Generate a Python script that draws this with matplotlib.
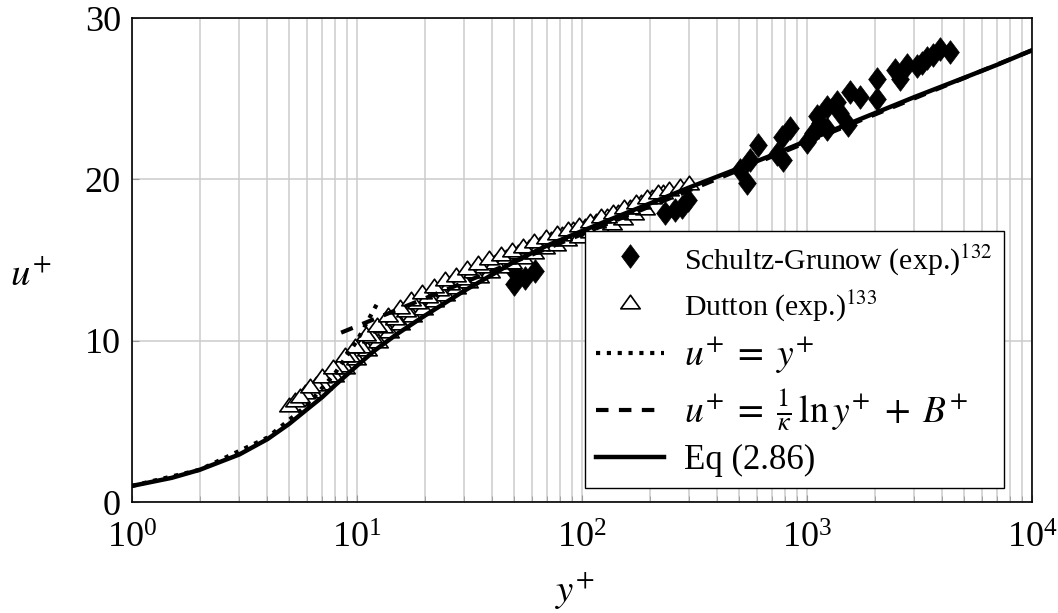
import matplotlib
matplotlib.use("Agg")
import matplotlib.pyplot as plt
from matplotlib.path import Path

plt.rcParams['font.family'] = 'serif'
plt.rcParams['font.serif'] = ['Liberation Serif', 'DejaVu Serif']
plt.rcParams['mathtext.fontset'] = 'stix'

# Schultz-Grunow (exp.)
sg_y = [50, 50, 56, 62, 234, 259, 278, 296, 504, 541, 558, 606, 736, 774, 782, 840,
        1000, 1064, 1107, 1143, 1227, 1227, 1360, 1402, 1521, 1553, 1720, 2047, 2047,
        2460, 2590, 2780, 3080, 3240, 3415, 3630, 3900, 4320]
sg_u = [13.5, 14.3, 13.9, 14.3, 17.9, 18.1, 18.3, 18.7, 20.6, 19.8, 21.2, 22.1, 21.6, 22.6, 21.2, 23.2,
        22.3, 22.9, 23.9, 23.5, 24.5, 23.1, 24.8, 24.1, 23.4, 25.4, 25.1, 26.2, 25.0,
        26.8, 26.2, 27.1, 27.0, 27.2, 27.5, 27.7, 28.1, 27.9]

# Dutton (exp.) - three overlapping profiles
dut1_y = [5.0, 5.6, 6.3, 7.0, 7.9, 8.8, 9.9, 11.1, 12.4, 13.9, 15.6, 17.5, 19.6, 22, 24.6, 27.6,
          31, 34.7, 38.9, 43.6, 48.8, 54.7, 61.3, 68.7, 77, 86.2, 96.6, 108, 121, 136, 152, 171, 191]
dut1_u = [6.0, 6.4, 6.9, 7.4, 7.9, 8.4, 8.9, 9.5, 10.0, 10.6, 11.1, 11.6, 12.0, 12.5, 12.9, 13.3,
          13.7, 14.0, 14.3, 14.6, 14.9, 15.2, 15.5, 15.8, 16.0, 16.3, 16.5, 16.8, 17.0, 17.3, 17.6, 17.9, 18.2]
dut2_y = [5.3, 5.9, 6.6, 7.4, 8.3, 9.3, 10.4, 11.7, 13.1, 14.7, 16.5, 18.5, 20.7, 23.2, 26, 29.2,
          32.7, 36.7, 41.1, 46.1, 51.7, 58, 65, 72.9, 81.7, 91.6, 103, 115, 129, 145, 163, 183, 205, 230]
dut2_u = [6.3, 6.8, 7.3, 7.9, 8.5, 9.1, 9.7, 10.3, 10.9, 11.4, 11.9, 12.4, 12.8, 13.2, 13.6, 13.9,
          14.3, 14.6, 14.9, 15.2, 15.5, 15.8, 16.0, 16.3, 16.6, 16.9, 17.1, 17.4, 17.7, 18.0, 18.3, 18.6, 18.9, 19.2]
dut3_y = [5.6, 6.2, 7.0, 7.8, 8.8, 9.8, 11.0, 12.3, 13.8, 15.5, 17.4, 19.5, 21.9, 24.5, 27.5, 30.8,
          34.6, 38.8, 43.5, 48.8, 54.7, 61.4, 68.9, 77.3, 86.7, 97.2, 109, 122, 137, 154, 173, 194,
          218, 244, 274, 300]
dut3_u = [6.6, 7.2, 7.8, 8.4, 9.1, 9.7, 10.4, 11.0, 11.6, 12.1, 12.6, 13.0, 13.4, 13.8, 14.1, 14.5,
          14.8, 15.1, 15.4, 15.6, 15.9, 16.2, 16.4, 16.7, 16.9, 17.2, 17.4, 17.7, 18.0, 18.3, 18.6, 18.9,
          19.2, 19.4, 19.6, 19.8]

# u+ = y+ (viscous sublayer)
lin_y = [1, 2, 4, 6, 8, 10, 12.4]
lin_u = [1, 2, 4, 6, 8, 10, 12.4]

# log law
log_y = [8.5, 10000]
log_u = [10.5, 28.0]

# Eq (2.86)
eq_y = [1, 1.5, 2, 3, 4, 5, 6, 7, 8, 10, 12, 15, 20, 25, 30, 40, 50, 70, 100, 150, 200,
        300, 500, 700, 1000, 2000, 3000, 5000, 7000, 10000]
eq_u = [1.0, 1.5, 2.0, 2.95, 3.9, 4.85, 5.75, 6.5, 7.25, 8.45, 9.4, 10.4, 11.55, 12.4, 13.1, 14.1,
        14.9, 15.9, 16.8, 17.8, 18.5, 19.5, 20.7, 21.5, 22.4, 24.1, 25.1, 26.3, 27.1, 28.0]

diamond = Path([(0, 1), (0.75, 0), (0, -1), (-0.75, 0), (0, 1)],
               [Path.MOVETO, Path.LINETO, Path.LINETO, Path.LINETO, Path.CLOSEPOLY])
triangle = Path([(0, 0.75), (-1, -0.65), (1, -0.65), (0, 0.75)],
                [Path.MOVETO, Path.LINETO, Path.LINETO, Path.CLOSEPOLY])

fig = plt.figure(figsize=(10.58, 6.13), dpi=100)
ax = fig.add_axes([0.1248, 0.181, 0.8506, 0.7896])

ax.plot(sg_y, sg_u, linestyle='none', marker=diamond, markersize=17, color='black',
        markeredgewidth=0.5, zorder=3, label='Schultz-Grunow (exp.)$^{132}$')
for i, (yy, uu) in enumerate([(dut1_y, dut1_u), (dut2_y, dut2_u), (dut3_y, dut3_u)]):
    ax.plot(yy, uu, linestyle='none', marker=triangle, markersize=14, markerfacecolor='white',
            markeredgecolor='black', markeredgewidth=1.2, zorder=4,
            label='Dutton (exp.)$^{133}$' if i == 0 else None)
ax.plot(lin_y, lin_u, color='black', lw=3.0, linestyle=(0, (1, 1.6)), zorder=5,
        label=r'$u^{+}\;=\;y^{+}$')
ax.plot(log_y, log_u, color='black', lw=3.0, linestyle=(0, (3, 2.5)), zorder=5,
        label=r'$u^{+}\;=\;\frac{1}{\kappa}\,\ln y^{+}\;+\;B^{+}$')
ax.plot(eq_y, eq_u, color='black', lw=3.2, zorder=6, label='Eq (2.86)')

ax.set_xscale('log')
ax.set_xlim(1, 1e4)
ax.set_ylim(0, 30)
ax.set_yticks([0, 10, 20, 30])
ax.grid(True, which='major', color='#cccccc', lw=1.1)
ax.grid(True, which='minor', axis='x', color='#cccccc', lw=1.1)
ax.set_axisbelow(True)
ax.tick_params(which='both', direction='in', color='#999999', labelsize=26, length=5)
ax.tick_params(axis='x', pad=15)
ax.tick_params(axis='y', pad=8)
ax.tick_params(which='minor', length=4)
for s in ax.spines.values():
    s.set_linewidth(1.2)

ax.set_ylabel('$u^{+}$', fontsize=28, rotation=0)
ax.yaxis.set_label_coords(-0.113, 0.43)
ax.set_xlabel('$y^{+}$', fontsize=28)
ax.xaxis.set_label_coords(0.492, -0.14)

leg = ax.legend(loc='lower right', bbox_to_anchor=(0.969, 0.029), borderaxespad=0,
                fancybox=False, edgecolor='black', framealpha=1, fontsize=25,
                handlelength=1.95, handletextpad=0.6, labelspacing=0.32, borderpad=0.32)
leg.get_frame().set_linewidth(1.0)
texts = leg.get_texts()
for t in texts[:2]:
    t.set_fontsize(21.5)
for t in texts[2:4]:
    t.set_fontsize(27)

fig.savefig('out.png', dpi=100)
